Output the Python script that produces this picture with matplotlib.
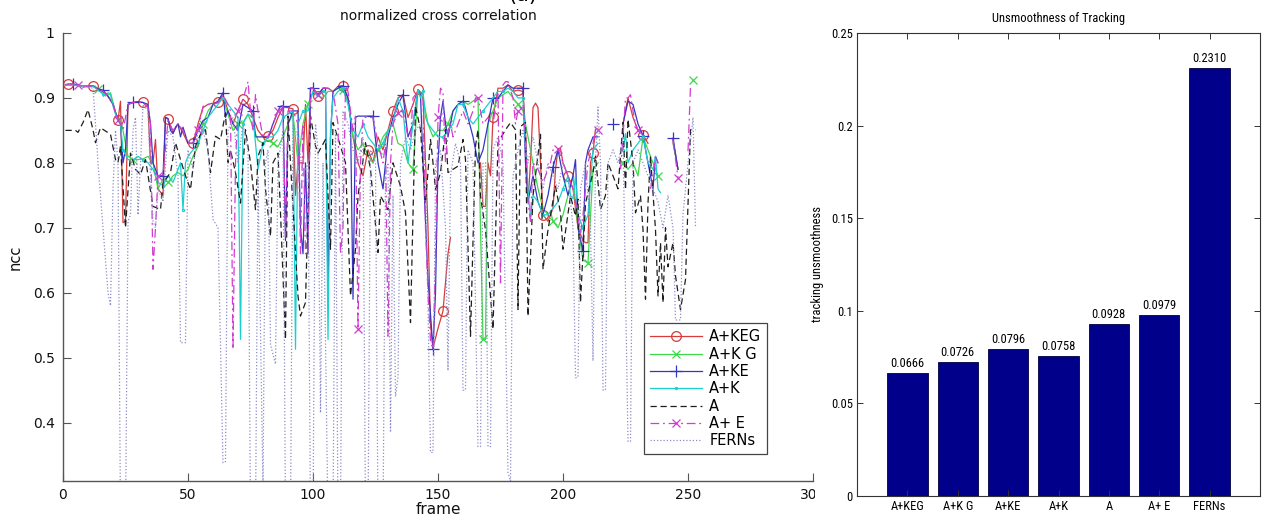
import matplotlib
matplotlib.use("Agg")
import numpy as np
import matplotlib.pyplot as plt
from matplotlib.patches import Rectangle
from matplotlib import font_manager
from matplotlib.font_manager import FontProperties

nan = float("nan")

# ---------------------------------------------------------------- data
methods = ["A+KEG", "A+K G", "A+KE", "A+K", "A", "A+ E", "FERNs"]
unsmoothness = [0.0666, 0.0726, 0.0796, 0.0758, 0.0928, 0.0979, 0.2310]

frame_ticks = [0, 50, 100, 150, 200, 250, 300]
ncc_ticks = [0.4, 0.5, 0.6, 0.7, 0.8, 0.9, 1.0]
ncc_tick_labels = ["0.4", "0.5", "0.6", "0.7", "0.8", "0.9", "1"]
unsm_ticks = [0, 0.05, 0.10, 0.15, 0.20, 0.25]
unsm_tick_labels = ["0", "0.05", "0.1", "0.15", "0.2", "0.25"]

# (frame, ncc) samples per tracker; nan marks frames without output
ncc_keg = [(1,.920),(2,.921),(4,.921),(6,.920),(8,.918),(10,.918),(12,.919),(14,.914),(16,.910),(18,.902),
    (20,.890),(21,.877),(22,.866),(23,.895),(24,.708),(25,.710),(26,.890),(28,.893),(30,.894),(32,.893),
    (34,.886),(35,.800),(36,.800),(37,.836),(38,.760),(40,.750),(41,.870),(42,.868),(44,.846),(46,.860),
    (48,.846),(50,.830),(52,.830),(54,.860),(56,.885),(58,.890),(60,.892),(62,.893),(64,.905),(66,.880),
    (68,.860),(70,.880),(72,.898),(74,.890),(76,.870),(78,.850),(80,.840),(82,.841),(84,.850),(86,.870),
    (88,.886),(90,.885),(92,.883),(93,.750),(94,.800),(96,.800),(97,.890),(98,.800),(99,.915),(100,.915),
    (102,.903),(104,.915),(106,.915),(108,.910),(110,.918),(112,.919),(114,.900),(116,.840),(118,.800),
    (120,.780),(122,.820),(124,.800),(126,.840),(128,.820),(130,.850),(132,.880),(134,.900),(136,.905),
    (138,.870),(140,.890),(142,.913),(144,.905),(146,.700),(147,.550),(148,.515),(150,.545),(152,.572),
    (154,.660),(155,.685),(156,nan),(166,nan),(167,.800),(168,.733),(169,.733),(170,.800),(171,.780),
    (172,.870),(174,.915),(176,.915),(178,.920),(180,.910),(182,.912),(184,.910),(185,.850),(186,.740),
    (187,.800),(188,.885),(189,.892),(190,.885),(191,.800),(192,.720),(194,.710),(196,.730),(197,.790),
    (198,.822),(199,.822),(200,.800),(202,.780),(204,.760),(206,.700),(208,.680),(209,.677),(210,.677),
    (211,.800),(212,.815),(213,.852),(214,.852),(215,nan),(222,nan),(224,.860),(226,.900),(228,.870),
    (230,.850),(232,.843),(234,.830),(235,nan),(243,nan),(244,.835),(246,.790)]

ncc_kg = [(1,.919),(2,.920),(4,.920),(6,.919),(8,.918),(10,.917),(12,.918),(14,.913),(16,.909),(18,.905),
    (19,.908),(20,.893),(21,.878),(22,.866),(23,.870),(24,.850),(26,.810),(28,.805),(30,.805),(32,.806),
    (34,.810),(36,.800),(38,.760),(40,.775),(42,.770),(44,.780),(46,.785),(48,.780),(50,.790),(52,.810),
    (54,.825),(56,.860),(58,.880),(60,.890),(62,.893),(64,.900),(66,.875),(68,.850),(70,.860),(72,.862),
    (74,.875),(76,.855),(78,.835),(80,.830),(82,.835),(84,.830),(86,.825),(88,.840),(90,.860),(92,.875),
    (94,.800),(96,.860),(98,.890),(100,.910),(102,.903),(104,.900),(106,.910),(108,.910),(110,.915),
    (112,.912),(114,.895),(116,.840),(118,.820),(120,.830),(122,.810),(124,.800),(126,.820),(128,.840),
    (130,.850),(132,.860),(134,.830),(136,.826),(138,.800),(140,.790),(142,.913),(144,.900),(146,.860),
    (148,.840),(150,.850),(152,.850),(154,.860),(156,.880),(158,.890),(160,.895),(162,.890),(164,.895),
    (166,.900),(167,.700),(168,.528),(169,.528),(170,.860),(172,.880),(174,.900),(176,.905),(178,.910),
    (180,.900),(182,.890),(184,.880),(186,.840),(188,.800),(190,.760),(192,.730),(194,.720),(195,.725),
    (196,.710),(198,.700),(200,.720),(202,.750),(204,.780),(206,.700),(208,.650),(210,.646),(212,.790),
    (214,.800),(215,nan),(222,nan),(224,.800),(226,.790),(228,.800),(230,.780),(232,.840),(234,.820),
    (236,.800),(238,.780),(239,nan),(243,nan),(244,.830),(246,.790),(247,nan),(251,nan),(252,.927)]

ncc_ke = [(1,.920),(2,.921),(4,.921),(6,.920),(8,.918),(10,.918),(12,.918),(14,.914),(16,.912),(18,.903),
    (20,.891),(21,.878),(22,.866),(23,.860),(24,.800),(25,.820),(26,.890),(28,.893),(30,.894),(32,.893),
    (34,.890),(35,.860),(36,.800),(37,.790),(38,.780),(40,.780),(41,.870),(42,.868),(43,.850),(44,.845),
    (45,.855),(46,.860),(47,.840),(48,.855),(50,.830),(52,.830),(54,.850),(56,.865),(58,.870),(60,.890),
    (62,.895),(64,.908),(65,.870),(66,.880),(68,.860),(70,.850),(72,.890),(74,.885),(76,.880),(77,.840),
    (78,.840),(80,.840),(82,.838),(84,.860),(86,.880),(87,.887),(88,.888),(89,.680),(90,.860),(92,.880),
    (94,.880),(95,.700),(96,.660),(97,.800),(98,.660),(99,.915),(100,.915),(102,.905),(104,.915),
    (105,.915),(106,.600),(107,.840),(108,.910),(110,.915),(112,.918),(114,.900),(115,.870),(116,.590),
    (117,.870),(118,.872),(120,.872),(122,.872),(124,.872),(126,.800),(128,.760),(130,.840),(132,.870),
    (134,.890),(136,.905),(138,.840),(140,.860),(142,.912),(143,.905),(144,.800),(146,.620),(148,.513),
    (149,.600),(150,.800),(151,.870),(152,.895),(153,.860),(154,.840),(156,.880),(158,.890),(160,.895),
    (161,.885),(162,.870),(164,.840),(166,.800),(168,.820),(170,.860),(172,.900),(174,.900),(176,.910),
    (178,.920),(180,.915),(182,.915),(184,.915),(185,.800),(186,.740),(188,.780),(190,.740),(192,.720),
    (194,.750),(196,.794),(198,.820),(200,.780),(202,.750),(204,.780),(205,.805),(206,.700),(208,.664),
    (209,.800),(210,.820),(212,.840),(214,.840),(215,nan),(219,nan),(220,.860),(221,nan),(222,nan),
    (224,.860),(226,.895),(228,.890),(230,.860),(232,.842),(234,.800),(236,.760),(237,.810),(238,.800),
    (239,nan),(243,nan),(244,.838),(246,.790)]

ncc_k = [(1,.919),(2,.920),(4,.920),(6,.919),(8,.918),(10,.917),(12,.918),(14,.912),(16,.906),(17,.903),
    (18,.908),(19,.905),(20,.888),(21,.875),(22,.865),(23,.860),(24,.820),(26,.805),(28,.805),(30,.810),
    (32,.805),(34,.800),(36,.790),(38,.770),(40,.765),(42,.780),(44,.770),(46,.790),(47,.800),(48,.728),
    (49,.800),(50,.810),(52,.820),(54,.830),(56,.850),(58,.870),(60,.880),(62,.890),(64,.900),(66,.890),
    (68,.880),(70,.870),(71,.528),(72,.860),(74,.875),(76,.870),(78,.790),(80,.830),(82,.840),(84,.840),
    (86,.850),(88,.870),(90,.875),(92,.880),(93,.513),(94,.860),(96,.880),(98,.880),(100,.910),(102,.902),
    (104,.910),(105,.910),(106,.528),(107,.850),(108,.900),(110,.910),(112,.915),(114,.890),(116,.850),
    (118,.840),(120,.860),(122,.840),(124,.830),(126,.820),(128,.830),(130,.850),(132,.860),(134,.900),
    (136,.880),(138,.800),(140,.860),(142,.913),(143,.900),(144,.910),(145,.870),(146,.860),(148,.850),
    (150,.840),(152,.840),(154,.850),(156,.860),(158,.890),(160,.890),(162,.870),(164,.860),(166,.870),
    (168,.880),(170,.890),(172,.900),(174,.910),(176,.910),(178,.915),(180,.910),(182,.900),(184,.900),
    (186,.760),(187,.713),(188,.750),(190,.740),(192,.720),(194,.720),(196,.730),(198,.740),(200,.760),
    (202,.780),(203,.750),(204,.745),(205,.780),(206,.720),(208,.700),(210,.720),(212,.820),(214,.830),
    (215,nan),(222,nan),(224,.820),(225,.845),(226,.800),(228,.820),(230,.830),(232,.841),(234,.800),
    (236,.790),(237,.810),(238,.760),(239,.754)]

ncc_a = [(1,.850),(3,.850),(5,.850),(6,.847),(8,.862),(10,.882),(12,.851),(13,.831),(15,.854),(17,.849),
    (19,.844),(21,.805),(22,.800),(23,.826),(25,.700),(27,.815),(29,.790),(31,.782),(33,.805),(36,.733),
    (39,.728),(40,.769),(43,.785),(45,.831),(47,.805),(49,.780),(51,.759),(53,.826),(55,.844),(57,.851),
    (59,.785),(61,.841),(63,.836),(65,.877),(66,.800),(67,.820),(69,.785),(71,.738),(73,.851),(75,.800),
    (77,.728),(78,.810),(80,.831),(81,.759),(83,.687),(84,.800),(86,.815),(87,.723),(89,.528),(90,.872),
    (91,.800),(94,.595),(95,.564),(97,.585),(99,.872),(101,.826),(102,.815),(105,.836),(107,.667),
    (108,.862),(111,.826),(113,.800),(115,.595),(117,.667),(118,.749),(121,.831),(123,.790),(126,.662),
    (127,.749),(130,.728),(132,.800),(135,.764),(137,.723),(139,.554),(141,.887),(143,.851),(145,.738),
    (147,.836),(148,.800),(149,.759),(151,.785),(153,.851),(154,.785),(158,.795),(160,.836),(161,.805),
    (163,.533),(165,.826),(166,.851),(167,.749),(169,.697),(172,.544),(174,.831),(177,.851),(179,.862),
    (181,.851),(182,.574),(183,.856),(185,.862),(186,.564),(188,.749),(191,.844),(192,.636),(194,.697),
    (197,.764),(199,.723),(200,.667),(203,.749),(205,.718),(206,.744),(207,.585),(209,.738),(212,.785),
    (213,.810),(215,.728),(217,.750),(218,.800),(220,.780),(222,.760),(224,.862),(225,.759),(226,.867),
    (228,.800),(229,.723),(231,.749),(232,.697),(233,.590),(234,.738),(235,.810),(237,.697),(238,.595),
    (239,.677),(240,.585),(241,.700),(242,.640),(244,.677),(245,.626),(247,.574),(249,.620),(250,.738),
    (251,.851),(253,.851)]

ncc_ae = [(1,.921),(2,.921),(4,.921),(6,.920),(8,.918),(10,.918),(12,.918),(14,.914),(16,.910),(18,.903),
    (20,.890),(21,.877),(22,.866),(23,.860),(24,.850),(26,.890),(28,.893),(30,.893),(32,.893),(34,.886),
    (35,.860),(36,.636),(37,.700),(38,.780),(40,.780),(42,.865),(44,.850),(46,.860),(48,.850),(50,.830),
    (52,.830),(54,.850),(56,.887),(58,.890),(60,.890),(62,.893),(64,.905),(66,.890),(67,.880),(68,.513),
    (69,.800),(70,.880),(72,.898),(74,.925),(75,.880),(76,.850),(77,.905),(78,.880),(80,.840),(82,.840),
    (84,.860),(86,.880),(87,.887),(88,.888),(89,.687),(90,.880),(92,.880),(94,.860),(95,.660),(96,.860),
    (97,.660),(98,.660),(99,.915),(100,.915),(102,.905),(104,.915),(106,.915),(108,.910),(110,.860),
    (111,.660),(112,.700),(113,.918),(114,.910),(116,.850),(117,.872),(118,.544),(119,.800),(120,.870),
    (122,.870),(124,.870),(126,.830),(128,.800),(129,.830),(130,.533),(131,.800),(132,.860),(134,.877),
    (136,.880),(138,.840),(139,.835),(140,.900),(142,.910),(144,.900),(145,.700),(146,.600),(147,.525),
    (148,.513),(149,.650),(150,.870),(151,.915),(152,.910),(153,.800),(154,.850),(155,.860),(156,.840),
    (158,.860),(160,.880),(162,.860),(164,.880),(165,.900),(166,.900),(167,.880),(168,.860),(170,.870),
    (172,.860),(174,.910),(175,.615),(176,.920),(177,.925),(178,.925),(180,.900),(181,.860),(182,.880),
    (184,.890),(185,.840),(186,.740),(187,.710),(188,.800),(190,.790),(192,.770),(194,.790),(195,.800),
    (196,.820),(198,.822),(200,.800),(202,.780),(204,.760),(206,.720),(207,.690),(208,.720),(210,.800),
    (212,.830),(213,.850),(214,.850),(215,nan),(222,nan),(223,.790),(224,.840),(225,.900),(226,.900),
    (227,.905),(228,.880),(229,.860),(230,.850),(232,.843),(233,.840),(234,nan),(235,.760),(236,.780),
    (237,.810),(238,.800),(239,nan),(243,nan),(244,.835),(246,.777),(247,nan),(249,nan),(250,.818),
    (251,.918)]

ncc_ferns = [(1,.920),(4,.920),(8,.918),(12,.915),(13,.860),(14,.800),(16,.700),(18,.600),(19,.580),
    (20,.760),(21,.850),(22,.800),(23,.250),(25,.250),(26,.710),(27,.720),(28,.850),(29,.870),(30,.720),
    (31,.800),(32,.890),(34,.880),(35,.780),(36,.710),(37,.700),(38,.760),(40,.740),(42,.850),(44,.840),
    (46,.780),(47,.523),(49,.523),(50,.820),(52,.790),(54,.850),(56,.850),(58,.820),(60,.713),(62,.700),
    (64,.338),(65,.340),(66,.850),(68,.870),(70,.800),(72,.860),(74,.820),(75,.250),(77,.250),(78,.780),
    (80,.300),(81,.800),(82,.820),(83,.520),(85,.490),(86,.800),(88,.850),(89,.250),(91,.250),(92,.860),
    (94,.840),(96,.780),(98,.800),(99,.250),(100,.250),(101,.860),(102,.820),(103,.415),(104,.800),
    (106,.250),(108,.250),(109,.850),(110,.250),(111,.250),(112,.880),(114,.860),(116,.820),(118,.800),
    (120,.840),(121,.250),(122,.250),(123,.820),(125,.800),(126,.250),(128,.250),(129,.780),(130,.800),
    (131,.385),(132,.750),(133,.440),(134,.470),(135,.800),(137,.840),(139,.820),(141,.850),(143,.860),
    (145,.800),(147,.354),(148,.354),(149,.800),(151,.820),(153,.700),(154,.480),(155,.780),(157,.830),
    (159,.800),(160,.450),(161,.450),(162,.820),(164,.800),(166,.363),(167,.363),(168,.800),(169,.800),
    (170,.363),(171,.363),(172,.820),(174,.840),(176,.800),(178,.323),(179,.310),(180,.780),(182,.820),
    (184,.850),(186,.800),(188,.840),(190,.800),(192,.760),(194,.800),(196,.780),(198,.760),(200,.800),
    (202,.780),(204,.700),(205,.469),(206,.470),(207,.760),(209,.800),(211,.700),(212,.495),(213,.800),
    (214,.886),(215,.800),(216,.450),(217,.450),(218,.800),(220,.820),(222,.800),(224,.840),(226,.371),
    (227,.371),(228,.800),(230,.820),(232,.800),(234,.780),(236,.760),(238,.740),(240,.700),(242,.750),
    (244,.700),(245,.558),(247,.558),(248,.720),(250,.800),(252,.870),(253,.700)]

series = [ncc_keg, ncc_kg, ncc_ke, ncc_k, ncc_a, ncc_ae, ncc_ferns]

# line style, colour, marker and marker spacing (every `step` frames, at `offset`)
styles = [
    dict(color="#d63c3c", ls="-",  marker="o", ms=7, step=10, offset=2),
    dict(color="#3fd84a", ls="-",  marker="x", ms=6, step=14, offset=0),
    dict(color="#3535c4", ls="-",  marker="+", ms=8, step=12, offset=4),
    dict(color="#1ccfcf", ls="-",  marker=".", ms=3, step=8,  offset=0),
    dict(color="#1e1e1e", ls=(0, (5, 3)), marker=None, ms=0, step=0, offset=0),
    dict(color="#d23cd2", ls=(0, (7, 3, 1.5, 3)), marker="x", ms=6, step=16, offset=6),
    dict(color="#8c8cc8", ls=(0, (1, 1.6)), marker=None, ms=0, step=0, offset=0),
]


def narrow_font(size):
    """A condensed sans face for the bar panel, falling back to Liberation Sans."""
    wanted = ["Liberation Sans Narrow", "Roboto Condensed", "Open Sans Condensed",
              "Arial Narrow"]
    for name in wanted:
        for f in font_manager.fontManager.ttflist:
            if f.name == name and f.style == "normal" and f.weight in (400, "normal", "regular"):
                return FontProperties(fname=f.fname, size=size)
    for f in font_manager.fontManager.ttflist:
        if (f.name in ("Roboto", "Open Sans") and f.style == "normal"
                and f.weight in (400, "normal", "regular")
                and str(f.stretch) in ("condensed", "semi-condensed", "75", "87.5")):
            return FontProperties(fname=f.fname, size=size)
    return FontProperties(family="Liberation Sans", size=size * 0.92)


# ---------------------------------------------------------------- figure
fig = plt.figure(figsize=(12.65, 5.18), dpi=100)
plt.rcParams["font.family"] = ["DejaVu Sans"]

# ---- left panel: per-frame normalized cross correlation
ax = fig.add_axes([63 / 1265, 37 / 518, 750 / 1265, 448 / 518])
handles = []
for data, st, name in zip(series, styles, methods):
    f = np.array([p[0] for p in data], dtype=float)
    v = np.array([p[1] for p in data], dtype=float)
    kw = dict(color=st["color"], linestyle=st["ls"], linewidth=0.9, label=name)
    if st["marker"]:
        idx = [i for i, fr in enumerate(f) if st["step"] and int(fr) % st["step"] == st["offset"]
               and not np.isnan(v[i])]
        kw.update(marker=st["marker"], markersize=st["ms"], markevery=idx,
                  markerfacecolor="none", markeredgecolor=st["color"], markeredgewidth=0.9)
    line, = ax.plot(f, v, **kw)
    handles.append(line)

ax.set_xlim(0, 300)
ax.set_ylim(0.31, 1.0)
ax.set_xticks(frame_ticks)
ax.set_xticklabels([str(t) for t in frame_ticks])
ax.set_yticks(ncc_ticks)
ax.set_yticklabels(ncc_tick_labels)
for side in ("top", "right"):
    ax.spines[side].set_visible(False)
for side in ("left", "bottom"):
    ax.spines[side].set_color("#555555")
    ax.spines[side].set_linewidth(1.0)
ax.tick_params(direction="in", length=6, width=0.8, color="#555555", labelsize=10,
               labelcolor="#111111")
ax.tick_params(axis="y", pad=6)
ax.tick_params(axis="x", pad=5)
ax.set_title("normalized cross correlation", fontsize=10, pad=9, color="#111111")
ax.set_xlabel("frame", fontsize=11, labelpad=0, color="#111111")
ax.set_ylabel("ncc", fontsize=10.5, labelpad=7, color="#111111")

leg = ax.legend(handles, methods, loc="lower right", bbox_to_anchor=(0.939, 0.060),
                fontsize=10.5, handlelength=3.6, handletextpad=0.5, labelspacing=0.16,
                borderpad=0.4, borderaxespad=0, numpoints=1, fancybox=False,
                edgecolor="#444444", framealpha=1)
leg.get_frame().set_linewidth(0.9)

fig.text(523 / 1265, 1 - 0.5 / 518, "(a)", fontsize=15, ha="center", va="baseline")

# sheet behind the right panel
fig.add_artist(Rectangle((815 / 1265, 0), (857 - 815) / 1265, 1, transform=fig.transFigure,
                         facecolor="white", edgecolor="none", zorder=0.5))

# ---- right panel: unsmoothness of tracking
nf = narrow_font(9)
bx = fig.add_axes([857 / 1265, 22 / 518, 403 / 1265, 463 / 518])
bx.set_zorder(1)
pos = np.arange(1, len(methods) + 1)
bars = bx.bar(pos, unsmoothness, width=0.8, color="#00008a", edgecolor="#000040", linewidth=0.6)
for b, val in zip(bars, unsmoothness):
    bx.annotate(f"{val:.4f}", (b.get_x() + b.get_width() / 2, val), xytext=(0, 2),
                textcoords="offset points", ha="center", va="bottom", fontproperties=nf)
bx.set_xlim(0, len(methods) + 1)
bx.set_ylim(0, 0.25)
bx.set_xticks(pos)
bx.set_xticklabels(methods)
bx.set_yticks(unsm_ticks)
bx.set_yticklabels(unsm_tick_labels)
for lab in bx.get_xticklabels() + bx.get_yticklabels():
    lab.set_fontproperties(nf)
bx.tick_params(direction="in", length=4, width=0.7, top=True, right=True, pad=3,
               color="#333333")
for sp in bx.spines.values():
    sp.set_linewidth(0.8)
    sp.set_color("#333333")
bx.set_title("Unsmoothness of Tracking", fontproperties=nf, pad=8)
bx.set_ylabel("tracking unsmoothness", fontproperties=nf, labelpad=5)

fig.savefig("out.png", dpi=100)
